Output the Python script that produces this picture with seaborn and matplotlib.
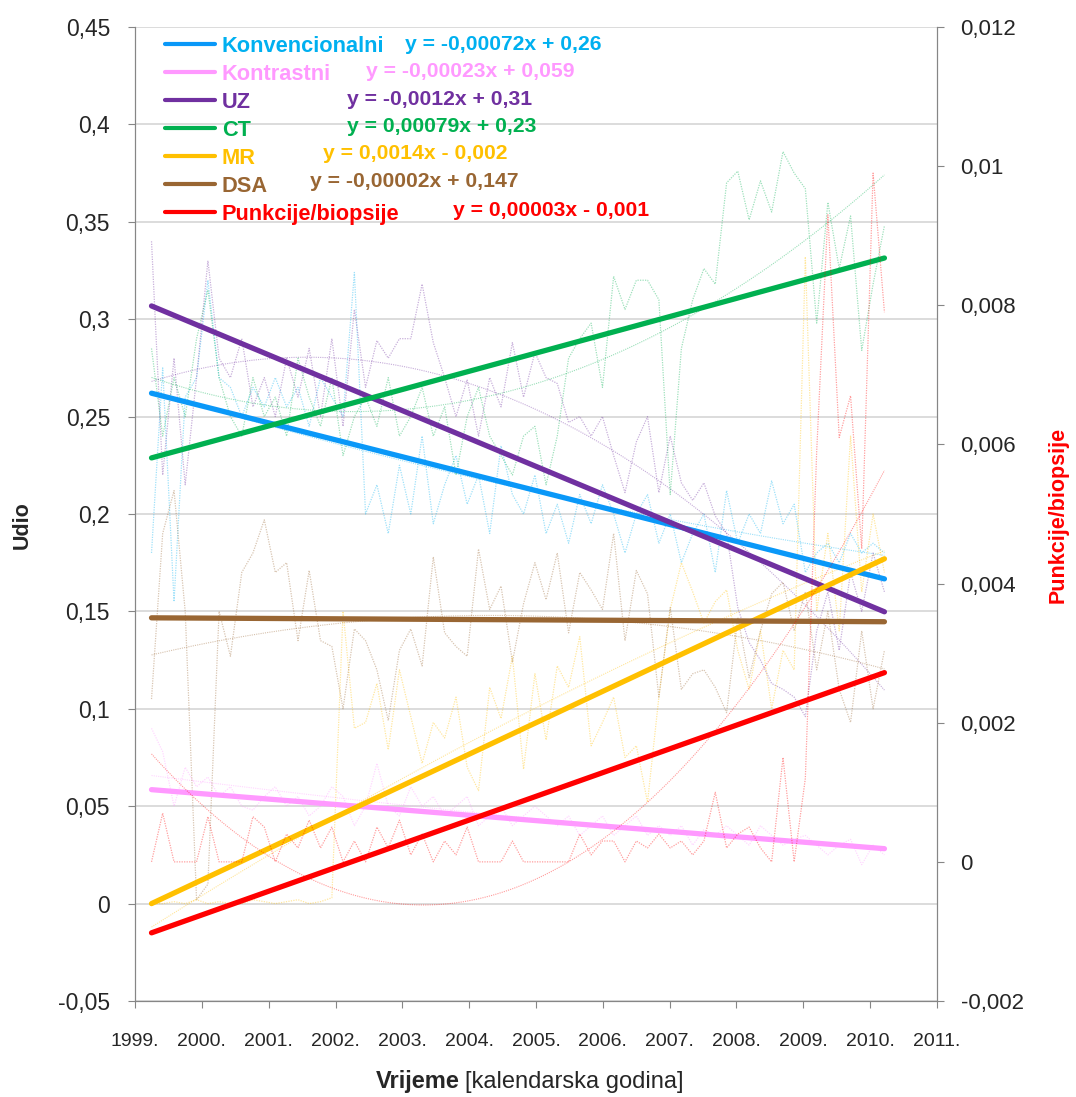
import numpy as np
import pandas as pd
import seaborn as sns
from matplotlib import pyplot as plt

# mjesecni udjeli (svaki drugi mjesec), 4/1999 - 3/2010
dates = pd.date_range('1999-04-01', '2010-03-20', periods=66)

konvencionalni = [0.18, 0.275, 0.155, 0.26, 0.27, 0.32, 0.27, 0.265, 0.25, 0.265, 0.255,
                  0.27, 0.255, 0.265, 0.245, 0.27, 0.26, 0.25, 0.324, 0.2, 0.215, 0.19,
                  0.225, 0.2, 0.24, 0.195, 0.215, 0.23, 0.205, 0.22, 0.19, 0.235, 0.21,
                  0.2, 0.22, 0.19, 0.205, 0.185, 0.21, 0.195, 0.215, 0.2, 0.18, 0.2,
                  0.21, 0.185, 0.2, 0.175, 0.19, 0.2, 0.17, 0.212, 0.185, 0.2, 0.19,
                  0.217, 0.195, 0.205, 0.17, 0.18, 0.185, 0.175, 0.19, 0.18, 0.185, 0.18]
kontrastni = [0.09, 0.078, 0.05, 0.07, 0.06, 0.065, 0.055, 0.06, 0.05, 0.048, 0.055,
              0.06, 0.05, 0.055, 0.045, 0.05, 0.06, 0.055, 0.04, 0.05, 0.072, 0.05,
              0.045, 0.06, 0.05, 0.055, 0.045, 0.05, 0.055, 0.04, 0.045, 0.05, 0.04,
              0.045, 0.05, 0.045, 0.04, 0.045, 0.035, 0.04, 0.045, 0.035, 0.04, 0.045,
              0.035, 0.04, 0.035, 0.04, 0.03, 0.038, 0.035, 0.04, 0.035, 0.03, 0.04,
              0.035, 0.03, 0.033, 0.035, 0.03, 0.025, 0.03, 0.033, 0.02, 0.03, 0.025]
uz = [0.34, 0.22, 0.28, 0.215, 0.27, 0.33, 0.28, 0.27, 0.29, 0.255, 0.27,
      0.25, 0.28, 0.26, 0.285, 0.25, 0.29, 0.245, 0.305, 0.265, 0.289, 0.28,
      0.29, 0.29, 0.318, 0.288, 0.27, 0.25, 0.269, 0.24, 0.27, 0.255, 0.288,
      0.26, 0.283, 0.27, 0.267, 0.247, 0.25, 0.24, 0.25, 0.23, 0.211, 0.237,
      0.25, 0.211, 0.24, 0.216, 0.207, 0.216, 0.199, 0.19, 0.152, 0.134, 0.125,
      0.113, 0.11, 0.106, 0.096, 0.14, 0.16, 0.13, 0.17, 0.15, 0.18, 0.16]
ct = [0.285, 0.24, 0.27, 0.25, 0.29, 0.315, 0.27, 0.25, 0.24, 0.27, 0.25,
      0.26, 0.24, 0.28, 0.26, 0.245, 0.27, 0.23, 0.25, 0.26, 0.245, 0.27,
      0.24, 0.25, 0.265, 0.24, 0.255, 0.22, 0.25, 0.265, 0.24, 0.23, 0.22,
      0.24, 0.245, 0.215, 0.24, 0.28, 0.29, 0.298, 0.265, 0.322, 0.305, 0.32,
      0.32, 0.31, 0.21, 0.285, 0.31, 0.326, 0.318, 0.37, 0.376, 0.351, 0.371,
      0.355, 0.386, 0.375, 0.367, 0.298, 0.36, 0.326, 0.353, 0.284, 0.318, 0.348]
mr = [0.0, 0.0, 0.001, 0.0, 0.002, 0.0, 0.001, 0.0, 0.0, 0.002, 0.001,
      0.0, 0.001, 0.002, 0.0, 0.001, 0.003, 0.15, 0.09, 0.093, 0.113, 0.079,
      0.12, 0.096, 0.072, 0.093, 0.085, 0.106, 0.07, 0.058, 0.111, 0.095, 0.127,
      0.069, 0.118, 0.084, 0.122, 0.111, 0.137, 0.081, 0.093, 0.106, 0.075, 0.081,
      0.052, 0.106, 0.151, 0.175, 0.16, 0.144, 0.155, 0.161, 0.13, 0.11, 0.14,
      0.1, 0.13, 0.12, 0.332, 0.15, 0.19, 0.14, 0.24, 0.16, 0.2, 0.17]
dsa = [0.105, 0.19, 0.212, 0.15, 0.002, 0.01, 0.15, 0.127, 0.17, 0.18, 0.197,
       0.17, 0.175, 0.135, 0.171, 0.135, 0.132, 0.1, 0.141, 0.135, 0.12, 0.094,
       0.13, 0.141, 0.122, 0.178, 0.139, 0.132, 0.127, 0.182, 0.151, 0.163, 0.124,
       0.154, 0.175, 0.156, 0.18, 0.139, 0.17, 0.161, 0.151, 0.19, 0.135, 0.171,
       0.159, 0.106, 0.152, 0.11, 0.118, 0.12, 0.111, 0.098, 0.147, 0.116, 0.14,
       0.159, 0.165, 0.14, 0.16, 0.12, 0.15, 0.11, 0.093, 0.14, 0.1, 0.13]
punkcije = [0, 0.0007, 0, 0, 0, 0.00065, 0, 0, 0, 0.00065, 0.0005,
            0, 0.0004, 0.0002, 0.0006, 0.0002, 0.0005, 0, 0.0003, 0, 0.0005, 0.0002,
            0.0006, 0.0001, 0.0004, 0, 0.0003, 0.0001, 0.0005, 0, 0, 0, 0.0003,
            0, 0, 0, 0, 0, 0.0004, 0.0001, 0.0003, 0.0003, 0, 0.0003, 0.0002,
            0.0004, 0.0002, 0.0003, 0.0001, 0.0003, 0.001, 0.0002, 0.0004, 0.0005, 0.0002,
            0, 0.0015, 0, 0.0012, 0.0059, 0.0093, 0.0061, 0.0067, 0.0045, 0.0099, 0.0079]

names = ['Konvencionalni', 'Kontrastni', 'UZ', 'CT', 'MR', 'DSA', 'Punkcije/biopsije']
equations = ['y = -0,00072x + 0,26', 'y = -0,00023x + 0,059', 'y = -0,0012x + 0,31',
             'y = 0,00079x + 0,23', 'y = 0,0014x - 0,002', 'y = -0,00002x + 0,147',
             'y = 0,00003x - 0,001']
# linearni trend: vrijednost na pocetku i na kraju razdoblja
trend_start = [0.262, 0.0585, 0.3068, 0.2288, 0.0, 0.1467, -0.00102]
trend_end = [0.1667, 0.0282, 0.1498, 0.3314, 0.177, 0.1447, 0.00272]

line_colors = ['#0A98F8', '#FF99FF', '#7030A0', '#00B050', '#FFC000', '#996633', '#FF0000']
text_colors = ['#00B0F0', '#FF99FF', '#7030A0', '#00B050', '#FFC000', '#996633', '#FF0000']
thin_colors = ['#00B0F0', '#FF99FF', '#7030A0', '#00B050', '#FFC000', '#996633', '#FF0000']

t = dates.year + (dates.dayofyear - 1) / 365.0
t = np.asarray(t, dtype=float)
data = [konvencionalni, kontrastni, uz, ct, mr, dsa, punkcije]

sns.set_style('ticks')
plt.rcParams['font.family'] = ['Liberation Sans', 'DejaVu Sans']

fig = plt.figure(figsize=(10.76, 10.97), dpi=100)
ax = fig.add_axes([0.1255, 0.0875, 0.7453, 0.8879])
ax2 = ax.twinx()

dots = (0, (1, 1))
for i in range(7):
    a = ax2 if i == 6 else ax
    sns.lineplot(x=t, y=data[i], ax=a, color=thin_colors[i], lw=0.9, alpha=0.38,
                 linestyle=dots)
    sns.regplot(x=t, y=data[i], ax=a, order=2, scatter=False, ci=None, truncate=True,
                line_kws=dict(color=thin_colors[i], lw=0.8, alpha=0.4, linestyle=dots))

handles = []
for i in range(7):
    a = ax2 if i == 6 else ax
    sns.lineplot(x=[t[0], t[-1]], y=[trend_start[i], trend_end[i]], ax=a,
                 color=line_colors[i], lw=3.8, solid_capstyle='round')
    handles.append(a.lines[-1])

ax.set_xlim(1999, 2011)
ax.set_ylim(-0.05, 0.45)
ax2.set_ylim(-0.002, 0.012)

years = list(range(1999, 2012))
ax.set_xticks(years, labels=[f'{y}.' for y in years])
yt = np.round(np.arange(-0.05, 0.46, 0.05), 2)
ax.set_yticks(yt, labels=[f'{v:g}'.replace('.', ',') for v in yt])
yt2 = np.round(np.arange(-0.002, 0.0121, 0.002), 3)
ax2.set_yticks(yt2, labels=[f'{v:g}'.replace('.', ',') for v in yt2])

ax.yaxis.grid(True, color='#D9D9D9', lw=1.3)
ax.set_axisbelow(True)
for a in (ax, ax2):
    a.spines['top'].set_visible(False)
    for s in ('left', 'right', 'bottom'):
        a.spines[s].set_color('#868686')
    a.set_xlabel('')
    a.set_ylabel('')
ax.tick_params(axis='y', direction='out', length=5, color='#868686', labelsize=16.5, pad=13)
ax.tick_params(axis='x', direction='out', length=5, color='#868686', labelsize=14, pad=18)
ax2.tick_params(axis='y', direction='out', length=5, color='#868686', labelsize=16, pad=12)

leg = ax2.legend(handles, names, loc='upper left', bbox_to_anchor=(0.037, 0.991),
                 frameon=False, handlelength=2.3, handletextpad=0.32,
                 labelspacing=0.32, borderpad=0, borderaxespad=0,
                 prop={'weight': 'bold', 'size': 15.7})
for txt, c in zip(leg.get_texts(), text_colors):
    txt.set_color(c)
for h in leg.get_lines():
    h.set_linewidth(3)

eq_x = [0.337, 0.288, 0.264, 0.264, 0.234, 0.218, 0.397]
eq_y = [0.9825, 0.9538, 0.926, 0.898, 0.870, 0.841, 0.812]
for i in range(7):
    ax2.text(eq_x[i], eq_y[i], equations[i], transform=ax2.transAxes, color=text_colors[i],
             fontsize=15.2, fontweight='bold', va='center', ha='left')

fig.text(0.0204, 0.5214, 'Udio', rotation=90, fontsize=15.5, fontweight='bold',
         ha='center', va='center')
fig.text(0.983, 0.5305, 'Punkcije/biopsije', rotation=90, fontsize=15.5, fontweight='bold',
         color='#FF0000', ha='center', va='center')
fig.text(0.4275, 0.0137, 'Vrijeme', fontsize=17, fontweight='bold', ha='right', va='center')
fig.text(0.4322, 0.0137, '[kalendarska godina]', fontsize=17, ha='left', va='center')

fig.savefig('out.png', dpi=100)
